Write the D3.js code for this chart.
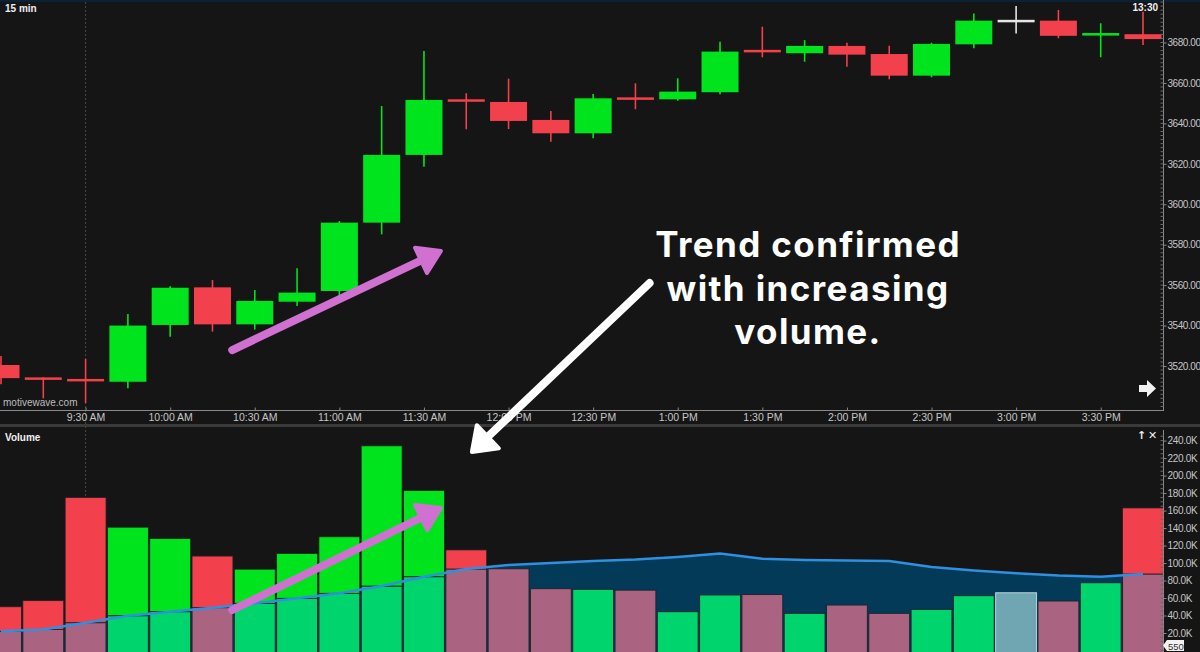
<!DOCTYPE html>
<html><head><meta charset="utf-8">
<script src="https://cdn.jsdelivr.net/npm/d3@7"></script>
<style>html,body{margin:0;padding:0;background:#151515;overflow:hidden}</style>
</head><body>
<svg id="c" width="1200" height="652"></svg>
<script>
// ---------- DATA ----------
const barTimes = ["09:00","09:15","09:30","09:45","10:00","10:15","10:30","10:45","11:00","11:15","11:30","11:45","12:00","12:15","12:30","12:45","13:00","13:15","13:30","13:45","14:00","14:15","14:30","14:45","15:00","15:15","15:30","15:45"];
const opens  = [3520.5,3514.0,3513.2,3512.2,3540.3,3558.9,3540.6,3551.8,3557.1,3590.9,3624.4,3651.6,3650.6,3641.7,3635.1,3652.5,3651.9,3655.4,3676.0,3674.7,3678.3,3674.3,3663.6,3679.1,3690.6,3690.8,3683.8,3684.1];
const highs  = [3525.0,3514.5,3523.5,3545.7,3559.5,3562.5,3557.6,3568.3,3591.7,3648.6,3675.8,3654.9,3662.1,3646.1,3654.5,3659.8,3662.3,3680.4,3687.8,3681.2,3679.9,3678.4,3679.9,3694.4,3698.1,3696.1,3689.5,3695.2];
const lows   = [3511.0,3504.0,3501.7,3509.0,3534.5,3537.0,3538.0,3549.7,3554.6,3585.1,3618.6,3637.1,3637.2,3630.9,3632.6,3647.0,3651.2,3654.4,3672.7,3670.5,3668.0,3661.8,3662.8,3677.1,3684.5,3682.1,3672.7,3678.8];
const closes = [3514.0,3513.5,3512.8,3540.0,3558.7,3540.6,3552.2,3556.3,3590.9,3624.4,3651.6,3651.0,3641.2,3635.1,3652.4,3652.0,3655.7,3675.5,3675.5,3678.3,3674.0,3663.6,3679.3,3690.8,3690.6,3683.3,3684.3,3681.7];
const volumes = [50,57,175,141,128,108,93,111,130,234,183,115,93.5,70.7,70,69,44.4,63.5,64,42.5,52,42.5,47,62.7,66,56.6,77.5,163]; // thousands
const volumeMA = [22,24,31.8,39.8,44.4,49,54,59.7,65.4,73.7,84.4,93.2,97.8,100,102.3,104,107,111,105,103.5,103,102.3,95.5,91.5,88.3,85.8,84.4,87.5];
const priceTicks = [3520,3540,3560,3580,3600,3620,3640,3660,3680];
const volumeTicks = [20,40,60,80,100,120,140,160,180,200,220,240];
const timeTicks = ["09:30","10:00","10:30","11:00","11:30","12:00","12:30","13:00","13:30","14:00","14:30","15:00","15:30"];
const annotationLines = ["Trend confirmed","with increasing","volume."];
// annotation arrows in data coordinates: [time, price/volume]
const priceArrow = [["10:22",3527.9],["11:36",3576.9]];
const volumeArrow = [["10:22",46.3],["11:36",163]];
const calloutArrow = [["12:50",3561],["11:47",3477.5]];

// ---------- SETUP ----------
const W = 1200, H = 652;
const svg = d3.select("#c");
const parse = d3.timeParse("%H:%M");
const times = barTimes.map(parse);

const bg = "#151515";
svg.append("rect").attr("width",W).attr("height",H).attr("fill",bg);
svg.append("rect").attr("width",W).attr("height",2).attr("fill","#0b2236");

const axisX = 1163;
const x = d3.scaleTime().domain([times[0], times[times.length-1]]).range([1, 1143]);
const step = x(times[1]) - x(times[0]);
const yP = d3.scaleLinear().domain([3520,3680]).range([366,42.5]);
const yV = d3.scaleLinear().domain([0,240]).range([650.5,440.6]);

const defs = svg.append("defs");
defs.append("clipPath").attr("id","clipP").append("rect").attr("x",0).attr("y",0).attr("width",axisX).attr("height",409);
defs.append("clipPath").attr("id","clipV").append("rect").attr("x",0).attr("y",428).attr("width",axisX).attr("height",H-428);

// dashed session line at 9:30
svg.append("line").attr("x1",x(parse("09:30"))).attr("x2",x(parse("09:30")))
  .attr("y1",2).attr("y2",H).attr("stroke","#4a4a4a").attr("stroke-dasharray","2,2").attr("stroke-width",1);

// ---------- PRICE PANEL ----------
const gP = svg.append("g").attr("clip-path","url(#clipP)");
const green = "#00e41e", red = "#f2414c", neutral = "#e6e6e6";
const candleColor = i => closes[i] > opens[i] ? green : (closes[i] < opens[i] ? red : neutral);
const bodyW = 37;
const idx = d3.range(times.length);
gP.selectAll("line.wick").data(idx).join("line").attr("class","wick")
  .attr("x1",i=>x(times[i])).attr("x2",i=>x(times[i]))
  .attr("y1",i=>yP(highs[i])).attr("y2",i=>yP(lows[i]))
  .attr("stroke",candleColor).attr("stroke-width",1.6);
gP.selectAll("rect.body").data(idx).join("rect").attr("class","body")
  .attr("x",i=>x(times[i])-bodyW/2).attr("width",bodyW)
  .attr("y",i=>{const t=yP(Math.max(opens[i],closes[i])), b=yP(Math.min(opens[i],closes[i])); return (b-t)<2.5 ? (t+b)/2-1.25 : t;})
  .attr("height",i=>Math.max(2.5, yP(Math.min(opens[i],closes[i]))-yP(Math.max(opens[i],closes[i]))))
  .attr("fill",candleColor);

// price axis
const axisCol = "#8a8a8a", labelCol = "#c6c6c6";
const lblFont = "Liberation Sans, Arial, sans-serif";
svg.append("line").attr("x1",axisX+0.5).attr("x2",axisX+0.5).attr("y1",0).attr("y2",411).attr("stroke",axisCol);
svg.append("line").attr("x1",0).attr("x2",axisX+1).attr("y1",410.5).attr("y2",410.5).attr("stroke",axisCol);
const gPA = svg.append("g").attr("transform",`translate(${axisX+0.5},0)`);
gPA.selectAll("line.minor").data(d3.range(3500,3702,2)).join("line").attr("class","minor")
  .attr("x1",-3).attr("x2",0).attr("y1",d=>yP(d)).attr("y2",d=>yP(d)).attr("stroke","#6a6a6a");
const pAxis = d3.axisRight(yP).tickValues(priceTicks).tickFormat(d=>d.toFixed(2)).tickSize(3).tickPadding(1);
gPA.call(pAxis);
gPA.select(".domain").remove();
gPA.selectAll(".tick line").attr("stroke",axisCol);
gPA.selectAll(".tick text").attr("fill",labelCol).attr("font-family",lblFont).attr("font-size",10).attr("letter-spacing","-0.45");

// time axis
const gT = svg.append("g").attr("transform","translate(0,410.5)");
const tAxis = d3.axisBottom(x).tickValues(timeTicks.map(parse)).tickFormat(d3.timeFormat("%-I:%M %p")).tickSize(0).tickPadding(3);
gT.call(tAxis);
gT.select(".domain").remove();
gT.selectAll(".tick text").attr("fill",labelCol).attr("font-family",lblFont).attr("font-size",10.5);
gT.selectAll(".tick").append("line").attr("y1",0).attr("y2",-3).attr("stroke",axisCol);

// separator
svg.append("rect").attr("x",0).attr("y",424).attr("width",W).attr("height",3).attr("fill","#3a3a3a");

// labels
svg.append("text").attr("x",5).attr("y",12).text("15 min").attr("fill","#f0f0f0").attr("font-family",lblFont).attr("font-size",10).attr("font-weight","bold");
svg.append("text").attr("x",3).attr("y",406).text("motivewave.com").attr("fill","#bdbdbd").attr("font-family",lblFont).attr("font-size",10);
svg.append("text").attr("x",1158).attr("y",11).attr("text-anchor","end").text("13:30").attr("fill","#f0f0f0").attr("font-family",lblFont).attr("font-size",10).attr("font-weight","bold");
// right arrow icon
svg.append("path").attr("d","M1139,385 h8 v-5 l9,8.5 l-9,8.5 v-5 h-8 z").attr("fill","#f2f2f2");

// ---------- VOLUME PANEL ----------
const gV = svg.append("g").attr("clip-path","url(#clipV)");
const area = d3.area().x((d,i)=>x(times[i])).y0(yV(0)+5).y1(d=>yV(d));
gV.append("path").datum(volumeMA).attr("d",area).attr("fill","#023a58");
const mutedOf = c => c===green ? "#00d46c" : (c===red ? "#aa6481" : "#70a6b2");
const barW = step - 1.4;
gV.selectAll("rect.vlow").data(idx).join("rect").attr("class","vlow")
  .attr("x",i=>x(times[i])-barW/2).attr("width",barW)
  .attr("y",i=>yV(Math.min(volumes[i],volumeMA[i]))).attr("height",i=>yV(0)-yV(Math.min(volumes[i],volumeMA[i]))+5)
  .attr("fill",i=>mutedOf(candleColor(i))).attr("stroke",i=>candleColor(i)===neutral?"#b8d6dc":"#1e2630").attr("stroke-width",1);
gV.selectAll("rect.vhigh").data(idx.filter(i=>volumes[i]>volumeMA[i])).join("rect").attr("class","vhigh")
  .attr("x",i=>x(times[i])-barW/2).attr("width",barW)
  .attr("y",i=>yV(volumes[i])).attr("height",i=>yV(volumeMA[i])-yV(volumes[i]))
  .attr("fill",candleColor).attr("stroke","#1e2222").attr("stroke-width",0.8);
const line = d3.line().x((d,i)=>x(times[i])).y(d=>yV(d));
gV.append("path").datum(volumeMA).attr("d",line).attr("fill","none").attr("stroke","#2f8fe0").attr("stroke-width",2.5);

// volume axis
svg.append("line").attr("x1",axisX+0.5).attr("x2",axisX+0.5).attr("y1",430).attr("y2",H).attr("stroke",axisCol);
const gVA = svg.append("g").attr("transform",`translate(${axisX+0.5},0)`);
gVA.selectAll("line.minor").data(d3.range(0,246,5)).join("line").attr("class","minor")
  .attr("x1",-3).attr("x2",0).attr("y1",d=>yV(d)).attr("y2",d=>yV(d)).attr("stroke","#6a6a6a");
const vAxis = d3.axisRight(yV).tickValues(volumeTicks).tickFormat(d=>d.toFixed(1)+"K").tickSize(3).tickPadding(1);
gVA.call(vAxis);
gVA.select(".domain").remove();
gVA.selectAll(".tick line").attr("stroke",axisCol);
gVA.selectAll(".tick text").attr("fill",labelCol).attr("font-family",lblFont).attr("font-size",10).attr("letter-spacing","-0.3");
svg.append("text").attr("x",5).attr("y",441).text("Volume").attr("fill","#f0f0f0").attr("font-family",lblFont).attr("font-size",10).attr("font-weight","bold");
svg.append("text").attr("x",1137).attr("y",439).text("↑").attr("fill","#f0f0f0").attr("font-family","DejaVu Sans").attr("font-size",11).attr("font-weight","bold");
svg.append("text").attr("x",1148).attr("y",439).text("✕").attr("fill","#f0f0f0").attr("font-family","DejaVu Sans").attr("font-size",11).attr("font-weight","bold");
// last value tag
svg.append("path").attr("d","M1163,645.5 l4,-5.5 h17 v11 h-17 z").attr("fill","#f2f2f2");
svg.append("text").attr("x",1168).attr("y",649.5).text("550").attr("fill","#333").attr("font-family",lblFont).attr("font-size",9.5);

// ---------- ANNOTATIONS ----------
function arrow(g, p0, p1, color, width, headLen, headHalf){
  const [x0,y0]=p0,[x1,y1]=p1;
  const dx=x1-x0, dy=y1-y0, L=Math.hypot(dx,dy), ux=dx/L, uy=dy/L, px=-uy, py=ux;
  const bx=x1-ux*headLen, by=y1-uy*headLen;
  g.append("line").attr("x1",x0).attr("y1",y0).attr("x2",bx+ux*2).attr("y2",by+uy*2)
    .attr("stroke",color).attr("stroke-width",width).attr("stroke-linecap","round");
  g.append("path").attr("d",`M${x1},${y1}L${bx+px*headHalf},${by+py*headHalf}L${bx-px*headHalf},${by-py*headHalf}Z`)
    .attr("fill",color).attr("stroke",color).attr("stroke-width",4).attr("stroke-linejoin","round");
}
const gA = svg.append("g");
const pink = "#d070d0";
arrow(gA, [x(parse(priceArrow[0][0])), yP(priceArrow[0][1])], [x(parse(priceArrow[1][0])), yP(priceArrow[1][1])], pink, 8, 22, 14);
arrow(gA, [x(parse(volumeArrow[0][0])), yV(volumeArrow[0][1])], [x(parse(volumeArrow[1][0])), yV(volumeArrow[1][1])], pink, 8, 22, 14);
arrow(gA, [x(parse(calloutArrow[0][0])), yP(calloutArrow[0][1])], [x(parse(calloutArrow[1][0])), yP(calloutArrow[1][1])], "#ffffff", 8, 22, 16);

annotationLines.forEach((s,i)=>{
  gA.append("text").attr("text-anchor","middle").attr("fill","#ffffff")
    .attr("font-family","Inter, Open Sans, sans-serif").attr("font-weight",700).attr("font-size",35)
    .attr("letter-spacing","1.4").attr("x",808).attr("y",257+i*43.5).text(s);
});
</script>
</body></html>
